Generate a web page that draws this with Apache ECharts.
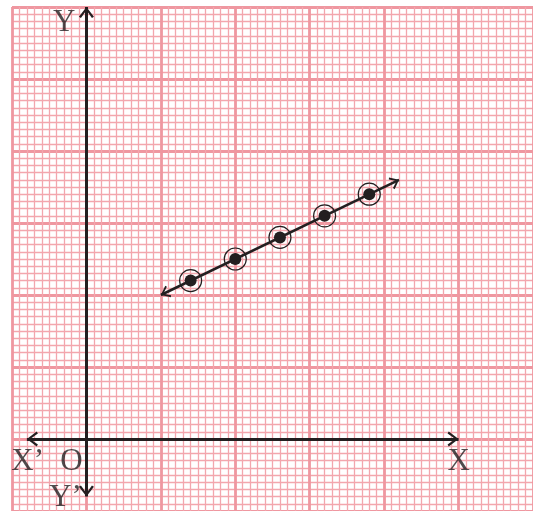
<!DOCTYPE html>
<html>
<head>
<meta charset="utf-8">
<script src="https://cdn.jsdelivr.net/npm/echarts@6/dist/echarts.min.js"></script>
<style>
html, body { margin: 0; padding: 0; background: #fff; }
#chart { width: 533px; height: 511px; }
</style>
</head>
<body>
<div id="chart"></div>
<script>
// graph paper: 1 unit = one small square, 10 units per big square
const obsX = [14, 20, 26, 32, 38];
const obsY = [22, 25, 28, 31, 34];
const fitLineX = [10, 42];
const fitLineY = [20, 36];
const xAxisEnds = [-8, 50];
const yAxisEnds = [-8, 60];
const axisNames = ['Y', 'X’', 'O', 'Y’', 'X'];
const axisNameX = [-3, -7.9, -2, -2.8, 50];
const axisNameY = [57.8, -3.2, -3.2, -8.2, -3.2];

const ink = '#231f20';
const gridMajor = '#ef97a0';
const gridMinor = '#f3a6ad';
// open chevron arrow head, tip at the top (markLine turns it outward)
const chevron = 'path://M7.5,0L15,10L13,11.2L7.5,3.4L2,11.2L0,10Z';

const paperAxis = () => ({
    type: 'value', min: -10, max: 60, interval: 10,
    axisLine: { show: false }, axisTick: { show: false }, axisLabel: { show: false },
    splitLine: { show: true, lineStyle: { color: gridMajor, width: 2.8 } },
    minorTick: { show: false, splitNumber: 10 },
    minorSplitLine: { show: true, lineStyle: { color: gridMinor, width: 1.3 } }
});

const arrowLine = (from, to, width, size) => ({
    silent: true,
    animation: false,
    symbol: [chevron, chevron],
    symbolSize: size,
    symbolOffset: [[0, size[1] / 2], [0, size[1] / 2]],
    label: { show: false },
    lineStyle: { color: ink, width: width, type: 'solid', opacity: 1 },
    emphasis: { disabled: true },
    data: [[{ coord: from }, { coord: to }]]
});

const myChart = echarts.init(document.getElementById('chart'));
myChart.setOption({
    animation: false,
    grid: { left: 12, top: 7, width: 524, height: 504 },
    xAxis: paperAxis(),
    yAxis: paperAxis(),
    series: [
        {
            type: 'scatter', symbolSize: 0, data: [],
            markLine: arrowLine([xAxisEnds[0], 0], [xAxisEnds[1], 0], 3, [15, 11])
        },
        {
            type: 'scatter', symbolSize: 0, data: [],
            markLine: arrowLine([0, yAxisEnds[0]], [0, yAxisEnds[1]], 3, [15, 11])
        },
        {
            type: 'scatter', symbolSize: 0, data: [],
            markLine: arrowLine([fitLineX[0], fitLineY[0]], [fitLineX[1], fitLineY[1]], 2.5, [13, 9])
        },
        {
            // rings round the plotted points
            type: 'scatter', symbol: 'circle', symbolSize: 22, silent: true,
            itemStyle: { color: 'rgba(255,255,255,0)', borderColor: ink, borderWidth: 1.2, opacity: 1 },
            data: obsX.map((x, i) => [x, obsY[i]])
        },
        {
            type: 'scatter', symbol: 'circle', symbolSize: 12, silent: true,
            itemStyle: { color: ink, opacity: 1 },
            data: obsX.map((x, i) => [x, obsY[i]])
        },
        {
            type: 'scatter', symbolSize: 1, silent: true,
            itemStyle: { color: 'rgba(0,0,0,0)' },
            label: {
                show: true, position: 'inside', formatter: '{b}',
                fontFamily: 'Liberation Serif', fontSize: 31, color: ink
            },
            data: axisNames.map((n, i) => ({ name: n, value: [axisNameX[i], axisNameY[i]] }))
        }
    ]
});
</script>
</body>
</html>
